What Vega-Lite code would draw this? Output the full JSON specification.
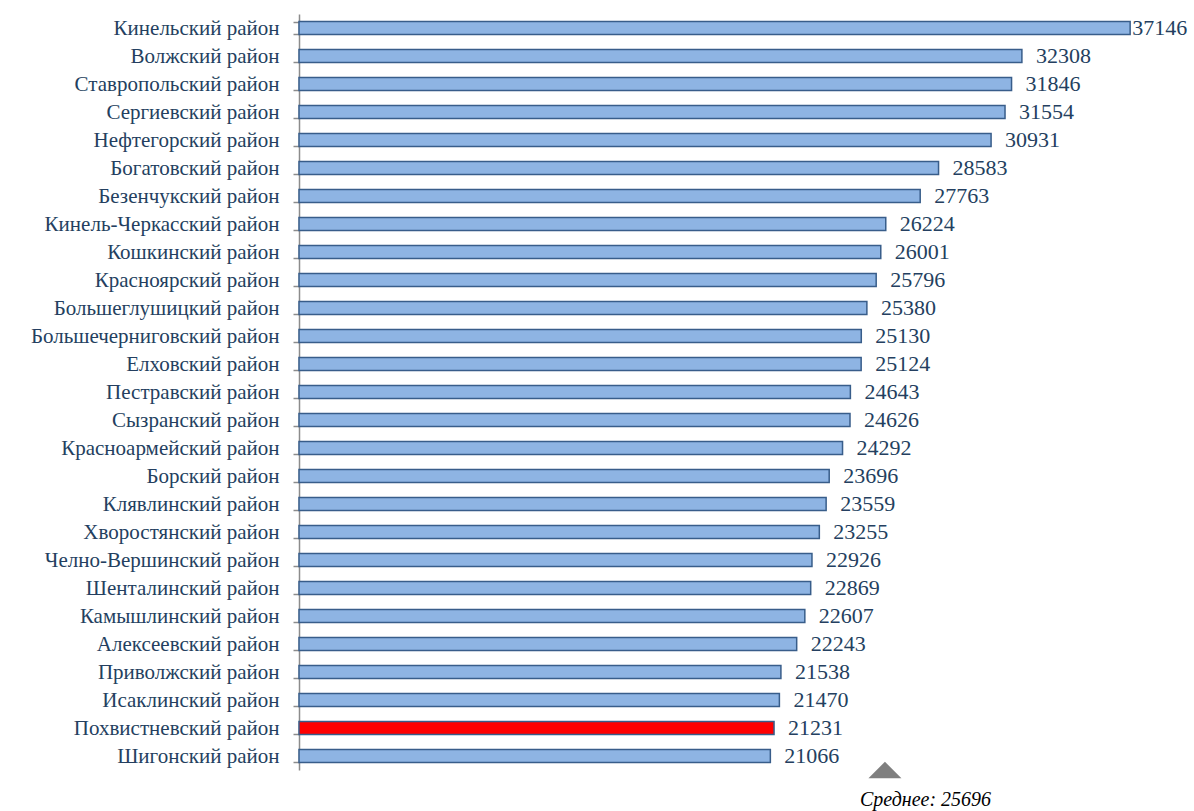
{
  "$schema": "https://vega.github.io/schema/vega-lite/v6.json",
  "autosize": {"type": "none"},
  "padding": {"left": 299, "top": 14, "right": 0, "bottom": 41},
  "width": 895,
  "height": 756,
  "background": "white",
  "config": {"view": {"stroke": null}, "font": "Liberation Serif"},
  "datasets": {
    "districts": [
      {"district": "Кинельский район", "value": 37146, "highlight": "no"},
      {"district": "Волжский район", "value": 32308, "highlight": "no"},
      {"district": "Ставропольский район", "value": 31846, "highlight": "no"},
      {"district": "Сергиевский район", "value": 31554, "highlight": "no"},
      {"district": "Нефтегорский район", "value": 30931, "highlight": "no"},
      {"district": "Богатовский район", "value": 28583, "highlight": "no"},
      {"district": "Безенчукский район", "value": 27763, "highlight": "no"},
      {"district": "Кинель-Черкасский район", "value": 26224, "highlight": "no"},
      {"district": "Кошкинский район", "value": 26001, "highlight": "no"},
      {"district": "Красноярский район", "value": 25796, "highlight": "no"},
      {"district": "Большеглушицкий район", "value": 25380, "highlight": "no"},
      {"district": "Большечерниговский район", "value": 25130, "highlight": "no"},
      {"district": "Елховский район", "value": 25124, "highlight": "no"},
      {"district": "Пестравский район", "value": 24643, "highlight": "no"},
      {"district": "Сызранский район", "value": 24626, "highlight": "no"},
      {"district": "Красноармейский район", "value": 24292, "highlight": "no"},
      {"district": "Борский район", "value": 23696, "highlight": "no"},
      {"district": "Клявлинский район", "value": 23559, "highlight": "no"},
      {"district": "Хворостянский район", "value": 23255, "highlight": "no"},
      {"district": "Челно-Вершинский район", "value": 22926, "highlight": "no"},
      {"district": "Шенталинский район", "value": 22869, "highlight": "no"},
      {"district": "Камышлинский район", "value": 22607, "highlight": "no"},
      {"district": "Алексеевский район", "value": 22243, "highlight": "no"},
      {"district": "Приволжский район", "value": 21538, "highlight": "no"},
      {"district": "Исаклинский район", "value": 21470, "highlight": "no"},
      {"district": "Похвистневский район", "value": 21231, "highlight": "yes"},
      {"district": "Шигонский район", "value": 21066, "highlight": "no"}
    ],
    "mean": [{"label": "Среднее: 25696", "value": 25696}]
  },
  "layer": [
    {
      "data": {"name": "districts"},
      "mark": {"type": "bar", "stroke": "#385D8A", "strokeWidth": 1.5},
      "encoding": {
        "y": {
          "field": "district", "type": "nominal", "sort": null,
          "scale": {"paddingInner": 0.54, "paddingOuter": 0.27},
          "axis": {
            "title": null, "labelFontSize": 21, "labelColor": "#243F60",
            "labelFont": "Liberation Serif", "labelPadding": 14,
            "tickBand": "extent", "tickSize": 6, "tickColor": "#8C8C8C", "tickWidth": 1.5,
            "domainColor": "#8C8C8C", "domainWidth": 1.5, "labelLimit": 400
          }
        },
        "x": {
          "field": "value", "type": "quantitative",
          "scale": {"domain": [0, 40000], "nice": false},
          "axis": null
        },
        "color": {
          "field": "highlight", "type": "nominal",
          "scale": {"domain": ["no", "yes"], "range": ["#8EB4E3", "#FF0000"]},
          "legend": null
        }
      }
    },
    {
      "data": {"name": "districts"},
      "transform": [{"filter": "datum.value < 35000"}],
      "mark": {"type": "text", "align": "left", "baseline": "middle", "fontSize": 22, "color": "#243F60", "font": "Liberation Serif", "dx": 14},
      "encoding": {
        "y": {"field": "district", "type": "nominal", "sort": null},
        "x": {"field": "value", "type": "quantitative"},
        "text": {"field": "value", "type": "quantitative", "format": "d"}
      }
    },
    {
      "data": {"name": "districts"},
      "transform": [{"filter": "datum.value >= 35000"}],
      "mark": {"type": "text", "align": "left", "baseline": "middle", "fontSize": 22, "color": "#243F60", "font": "Liberation Serif", "dx": 2},
      "encoding": {
        "y": {"field": "district", "type": "nominal", "sort": null},
        "x": {"field": "value", "type": "quantitative"},
        "text": {"field": "value", "type": "quantitative", "format": "d"}
      }
    },
    {
      "data": {"name": "mean"},
      "mark": {"type": "point", "shape": "M-1,0.5L1,0.5L0,-0.5Z", "filled": true, "color": "#7F7F7F", "opacity": 1, "size": 1089},
      "encoding": {
        "x": {"field": "value", "type": "quantitative"},
        "xOffset": {"value": 11},
        "y": {"value": "height"}
      }
    },
    {
      "data": {"name": "mean"},
      "mark": {"type": "text", "align": "left", "baseline": "alphabetic", "fontSize": 20, "fontStyle": "italic", "color": "#000000", "font": "Liberation Serif", "dx": -14, "dy": 36},
      "encoding": {
        "x": {"field": "value", "type": "quantitative"},
        "y": {"value": "height"},
        "text": {"field": "label"}
      }
    }
  ]
}
